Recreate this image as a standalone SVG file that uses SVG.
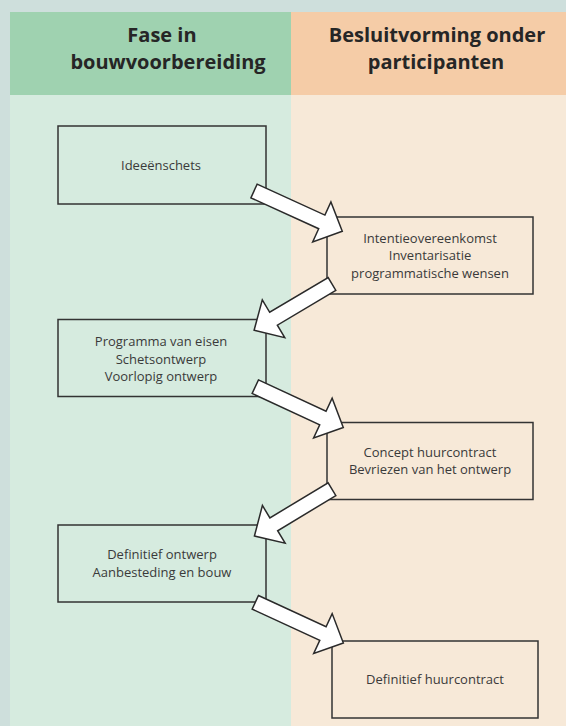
<svg xmlns="http://www.w3.org/2000/svg" xmlns:xlink="http://www.w3.org/1999/xlink" width="566" height="726" viewBox="0 0 566 726">
<style>
.hdr{font-family:"Open Sans","Liberation Sans",sans-serif;font-weight:700;font-size:20px;fill:#262626;text-anchor:middle}
.box{stroke:#333;stroke-width:1.5;fill:none}
.lbl{font-family:"Open Sans","Liberation Sans",sans-serif;font-size:13px;fill:#3a3a3a;text-anchor:middle}
.arr{fill:#fff;stroke:#2a2a2a;stroke-width:1.5;stroke-linejoin:miter}
</style>
<defs>
<path id="arrL" d="M0,-7.5 H74.5 V-22 L97,0 L74.5,22 V7.5 H0 Z"/>
<path id="arrS" d="M0,-7.5 H68 V-22 L90.6,0 L68,22 V7.5 H0 Z"/>
</defs>
<rect x="0" y="0" width="566" height="726" fill="#cedfdc"/>
<g id="columns">
<rect x="10" y="12" width="281" height="83" fill="#9fd2b0"/>
<rect x="291" y="12" width="275" height="83" fill="#f5cca7"/>
<rect x="10" y="95" width="281" height="631" fill="#d6ebdf"/>
<rect x="291" y="95" width="275" height="631" fill="#f7e9d8"/>
<text class="hdr" x="162" y="42">Fase in</text>
<text class="hdr" x="168" y="69">bouwvoorbereiding</text>
<text class="hdr" x="437" y="42">Besluitvorming onder</text>
<text class="hdr" x="436" y="69">participanten</text>
</g>
<g id="node1">
<rect class="box" x="58" y="126" width="208" height="78"/>
<text class="lbl" x="161" y="170">Ideeënschets</text>
</g>
<g id="node2">
<rect class="box" x="327" y="217" width="206" height="77"/>
<text class="lbl" x="430" y="242.5">Intentieovereenkomst</text>
<text class="lbl" x="430" y="260">Inventarisatie</text>
<text class="lbl" x="430" y="277.5">programmatische wensen</text>
</g>
<g id="node3">
<rect class="box" x="58" y="319.5" width="208" height="77"/>
<text class="lbl" x="161" y="346">Programma van eisen</text>
<text class="lbl" x="161" y="363.5">Schetsontwerp</text>
<text class="lbl" x="161" y="381">Voorlopig ontwerp</text>
</g>
<g id="node4">
<rect class="box" x="327" y="422.5" width="206" height="77"/>
<text class="lbl" x="430" y="456.8">Concept huurcontract</text>
<text class="lbl" x="430" y="474.3">Bevriezen van het ontwerp</text>
</g>
<g id="node5">
<rect class="box" x="58" y="525" width="208" height="77"/>
<text class="lbl" x="162" y="559.3">Definitief ontwerp</text>
<text class="lbl" x="162" y="576.8">Aanbesteding en bouw</text>
</g>
<g id="node6">
<rect class="box" x="332" y="641" width="206" height="77"/>
<text class="lbl" x="435" y="684">Definitief huurcontract</text>
</g>
<g id="connectors">
<use class="arr" xlink:href="#arrL" transform="translate(254,191) rotate(24.5)"/>
<use class="arr" xlink:href="#arrS" transform="translate(332,284) rotate(149.3)"/>
<use class="arr" xlink:href="#arrL" transform="translate(255.3,386.7) rotate(24.9)"/>
<use class="arr" xlink:href="#arrS" transform="translate(332,489.2) rotate(148.9)"/>
<use class="arr" xlink:href="#arrL" transform="translate(255.3,602.3) rotate(24.8)"/>
</g>
</svg>
